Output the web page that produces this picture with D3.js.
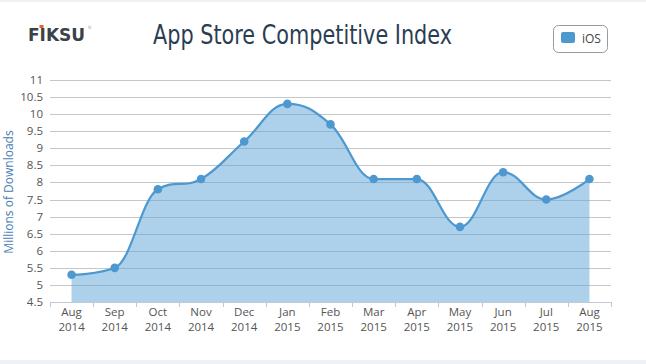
<!DOCTYPE html>
<html><head><meta charset="utf-8">
<script src="https://cdn.jsdelivr.net/npm/d3@7"></script>
<style>
html,body{margin:0;padding:0;background:#fff;}
svg{display:block;}
</style></head>
<body>
<svg id="chart" width="646" height="364"></svg>
<script>
const months = ["Aug","Sep","Oct","Nov","Dec","Jan","Feb","Mar","Apr","May","Jun","Jul","Aug"];
const years  = ["2014","2014","2014","2014","2014","2015","2015","2015","2015","2015","2015","2015","2015"];
const iosValues = [5.3,5.5,7.8,8.1,9.2,10.3,9.7,8.1,8.1,6.7,8.3,7.5,8.1];
const yTicks = [4.5,5,5.5,6,6.5,7,7.5,8,8.5,9,9.5,10,10.5,11];
const seriesName = "iOS";
const titleText = "App Store Competitive Index";
const yTitle = "Millions of Downloads";

const svg = d3.select("#chart");
const W = 646, H = 364;
const plot = {left:50, right:611, top:80, bottom:302};
const lineColor = "#4e98d0";
const font = "'Open Sans', 'DejaVu Sans', sans-serif";

svg.append("rect").attr("x",0).attr("y",0).attr("width",W).attr("height",H).attr("fill","#fff");
svg.append("rect").attr("x",0).attr("y",0).attr("width",W).attr("height",2).attr("fill","#eef1f5");
svg.append("rect").attr("x",0).attr("y",360).attr("width",W).attr("height",4).attr("fill","#eef1f5");

const idx = d3.range(iosValues.length);
const x = d3.scaleBand().domain(idx).range([plot.left, plot.right]);
const y = d3.scaleLinear().domain([4.5, 11]).range([plot.bottom, plot.top]);
const cx = i => x(i) + x.bandwidth()/2;

svg.append("g").selectAll("line").data(yTicks).join("line")
  .attr("x1", plot.left).attr("x2", plot.right)
  .attr("y1", d => Math.round(y(d))+0.5).attr("y2", d => Math.round(y(d))+0.5)
  .attr("stroke", "#c6c6c6").attr("stroke-width",1);

function splinePath(pts, closeBase) {
  const p = d3.path();
  const sm = 1.5, den = 2.5;
  const ctrl = pts.map((pt, i) => {
    if (i === 0 || i === pts.length-1) return null;
    const last = pts[i-1], next = pts[i+1];
    let lx = (sm*pt[0] + last[0])/den, ly = (sm*pt[1] + last[1])/den;
    let rx = (sm*pt[0] + next[0])/den, ry = (sm*pt[1] + next[1])/den;
    let corr = 0;
    if (rx !== lx) corr = ((ry - ly)*(rx - pt[0]))/(rx - lx) + pt[1] - ry;
    ly += corr; ry += corr;
    if (ly > last[1] && ly > pt[1]) { ly = Math.max(last[1], pt[1]); ry = 2*pt[1] - ly; }
    else if (ly < last[1] && ly < pt[1]) { ly = Math.min(last[1], pt[1]); ry = 2*pt[1] - ly; }
    if (ry > next[1] && ry > pt[1]) { ry = Math.max(next[1], pt[1]); ly = 2*pt[1] - ry; }
    else if (ry < next[1] && ry < pt[1]) { ry = Math.min(next[1], pt[1]); ly = 2*pt[1] - ry; }
    return {lx, ly, rx, ry};
  });
  p.moveTo(pts[0][0], pts[0][1]);
  for (let i = 1; i < pts.length; i++) {
    const a = pts[i-1], b = pts[i];
    const c1 = ctrl[i-1] ? [ctrl[i-1].rx, ctrl[i-1].ry] : a;
    const c2 = ctrl[i] ? [ctrl[i].lx, ctrl[i].ly] : b;
    p.bezierCurveTo(c1[0], c1[1], c2[0], c2[1], b[0], b[1]);
  }
  if (closeBase) {
    p.lineTo(pts[pts.length-1][0], closeBase);
    p.lineTo(pts[0][0], closeBase);
    p.closePath();
  }
  return p.toString();
}
const pts = iosValues.map((v,i) => [cx(i), y(v)]);

svg.append("path").attr("d", splinePath(pts, plot.bottom))
  .attr("fill", "#5ba2d8").attr("fill-opacity", 0.5).attr("stroke","none");
svg.append("path").attr("d", splinePath(pts, null))
  .attr("fill","none").attr("stroke", lineColor).attr("stroke-width", 2.2);
svg.append("g").selectAll("circle").data(iosValues).join("circle")
  .attr("cx", (d,i) => cx(i)).attr("cy", d => y(d)).attr("r", 4.3)
  .attr("fill", lineColor);

const xg = svg.append("g");
xg.append("line").attr("x1", plot.left).attr("x2", plot.right)
  .attr("y1", plot.bottom+0.5).attr("y2", plot.bottom+0.5).attr("stroke","#c0c8d4");
const bounds = idx.map(i => x(i)).concat([plot.right]);
xg.selectAll("line.tick").data(bounds).join("line").attr("class","tick")
  .attr("x1", d => Math.round(d)+0.5).attr("x2", d => Math.round(d)+0.5)
  .attr("y1", plot.bottom).attr("y2", plot.bottom+5).attr("stroke","#c0c8d4");
const xl = xg.selectAll("text.xl").data(idx).join("text").attr("class","xl")
  .attr("x", i => cx(i)).attr("y", 316).attr("text-anchor","middle")
  .attr("font-family", font).attr("font-size", 11.5).attr("fill","#555");
xl.append("tspan").attr("x", i => cx(i)).attr("dy", 0).text(i => months[i]);
xl.append("tspan").attr("x", i => cx(i)).attr("dy", 15).text(i => years[i]);

svg.append("g").selectAll("text").data(yTicks).join("text")
  .attr("x", 43).attr("y", d => y(d)+4).attr("text-anchor","end")
  .attr("font-family", font).attr("font-size", 11.5).attr("fill","#555")
  .text(d => d);

svg.append("text").attr("transform", "translate(13,192) rotate(-90)")
  .attr("text-anchor","middle").attr("font-family", font).attr("font-size", 12)
  .attr("fill","#4a80b5").text(yTitle);

svg.append("text").attr("x", 153).attr("y", 44)
  .attr("font-family", "'Liberation Sans Narrow','DejaVu Sans Condensed','Open Sans',sans-serif")
  .attr("font-size", 26).attr("fill","#2b3d52")
  .attr("textLength", 299).attr("lengthAdjust","spacingAndGlyphs")
  .text(titleText);

const logo = svg.append("g");
logo.append("text").attr("x", 28).attr("y", 41)
  .attr("font-family", "'DejaVu Sans','Open Sans',sans-serif").attr("font-weight","bold")
  .attr("font-size", 17).attr("fill","#3c4249").text("FIKSU");
logo.append("rect").attr("x", 39.5).attr("y", 25).attr("width",4).attr("height",3).attr("fill","#e8622c");
logo.append("text").attr("x", 88).attr("y", 29).attr("font-family", font)
  .attr("font-size", 4).attr("fill","#888").text("®");

const lg = svg.append("g");
lg.append("rect").attr("x", 553.5).attr("y", 25.5).attr("width", 54).attr("height", 27)
  .attr("rx", 5).attr("fill","#fff").attr("stroke","#9a9a9a");
lg.append("rect").attr("x", 561).attr("y", 32).attr("width", 14).attr("height", 11)
  .attr("rx", 2).attr("fill", lineColor);
lg.append("text").attr("x", 582).attr("y", 43).attr("font-family", font)
  .attr("font-size", 12).attr("fill","#444").text(seriesName);
</script>
</body></html>
